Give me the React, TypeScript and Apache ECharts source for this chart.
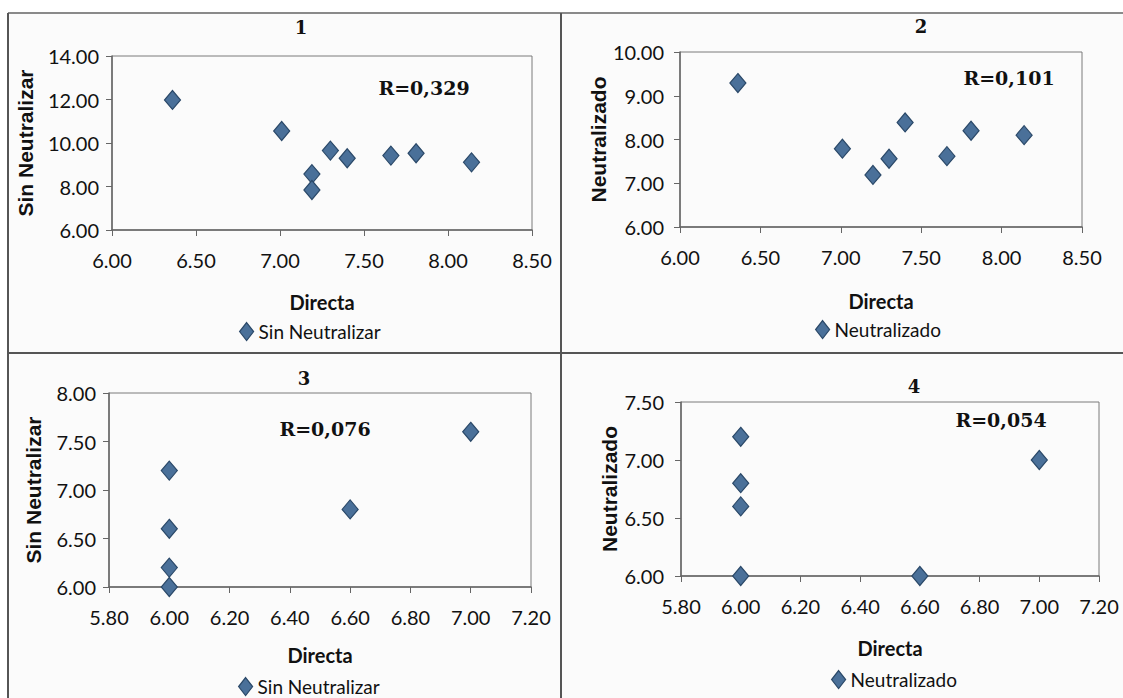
import React, { useEffect, useRef } from "react";
import * as echarts from "echarts";

// Panel 1: Directa vs Sin Neutralizar
const p1X = [6.36, 7.01, 7.19, 7.19, 7.3, 7.4, 7.66, 7.81, 8.14];
const p1Y = [11.98, 10.55, 8.57, 7.84, 9.65, 9.3, 9.42, 9.53, 9.11];
// Panel 2: Directa vs Neutralizado
const p2X = [6.36, 7.01, 7.2, 7.3, 7.4, 7.66, 7.81, 8.14];
const p2Y = [9.29, 7.79, 7.19, 7.56, 8.39, 7.62, 8.2, 8.1];
// Panel 3: Directa vs Sin Neutralizar
const p3X = [6.0, 6.0, 6.0, 6.0, 6.6, 7.0];
const p3Y = [7.2, 6.6, 6.2, 6.0, 6.8, 7.6];
// Panel 4: Directa vs Neutralizado
const p4X = [6.0, 6.0, 6.0, 6.0, 6.6, 7.0];
const p4Y = [7.2, 6.8, 6.6, 6.0, 6.0, 7.0];

const panelTitles = ["1", "2", "3", "4"];
const rLabels = ["R=0,329", "R=0,101", "R=0,076", "R=0,054"];
const seriesNames = ["Sin Neutralizar", "Neutralizado", "Sin Neutralizar", "Neutralizado"];
const xTitle = "Directa";
const yTitles = ["Sin Neutralizar", "Neutralizado", "Sin Neutralizar", "Neutralizado"];

const xRanges = [
  [6, 8.5, 0.5],
  [6, 8.5, 0.5],
  [5.8, 7.2, 0.2],
  [5.8, 7.2, 0.2],
];
const yRanges = [
  [6, 14, 2],
  [6, 10, 1],
  [6, 8, 0.5],
  [6, 7.5, 0.5],
];

const NARROW = "Lato, 'Noto Sans', sans-serif";
const SANS = "'Liberation Sans', Arial, sans-serif";
const SERIF = "'DejaVu Serif', 'Liberation Serif', serif";

export default function App() {
  const ref = useRef<HTMLDivElement>(null);
  useEffect(() => {
    if (!ref.current) return;
    const chart = echarts.init(ref.current, undefined, { renderer: "svg" });
    const grids = [
      { left: 112, top: 56, width: 420, height: 174 },
      { left: 680, top: 52, width: 402, height: 175 },
      { left: 109, top: 393, width: 422, height: 194 },
      { left: 681, top: 402, width: 418, height: 174 },
    ];
    const xNameGaps = [62, 64, 58, 62];
    const yNameGaps = [76, 70, 65, 61];
    const yLabelMargins = [13, 16, 13, 17];
    const titlePos = [
      [301, 27],
      [921, 26],
      [304, 378],
      [914, 386],
    ];
    const rPos = [
      [424, 88],
      [1009, 78],
      [325, 429],
      [1001, 420],
    ];
    const legendPos = [
      [239, 322],
      [815, 320],
      [238, 677],
      [831, 670],
    ];
    const xs = [p1X, p2X, p3X, p4X];
    const ys = [p1Y, p2Y, p3Y, p4Y];

    const markerStyle = {
      color: "#4a7099",
      borderColor: "#2a4868",
      borderWidth: 1.2,
      opacity: 1,
    };

    const option: any = {
      animation: false,
      backgroundColor: "#fbfbfb",
      grid: grids.map((g) => ({
        ...g,
        show: true,
        borderColor: "#7a7a7a",
        borderWidth: 1,
        backgroundColor: "transparent",
      })),
      xAxis: xRanges.map((r, i) => ({
        type: "value",
        gridIndex: i,
        min: r[0],
        max: r[1],
        interval: r[2],
        name: xTitle,
        nameLocation: "middle",
        nameGap: xNameGaps[i],
        nameTextStyle: { fontFamily: NARROW, fontWeight: "bold", fontSize: 20, color: "#111" },
        axisLine: { show: true, lineStyle: { color: "#666", width: 1.5 } },
        axisTick: { show: true, inside: false, length: 6, lineStyle: { color: "#666" } },
        axisLabel: {
          margin: 20,
          fontFamily: NARROW,
          fontSize: 20,
          color: "#111",
          formatter: (v: number) => v.toFixed(2),
        },
        splitLine: { show: false },
      })),
      yAxis: yRanges.map((r, i) => ({
        type: "value",
        gridIndex: i,
        min: r[0],
        max: r[1],
        interval: r[2],
        name: yTitles[i],
        nameLocation: "middle",
        nameGap: yNameGaps[i],
        nameRotate: 90,
        nameTextStyle: { fontFamily: SANS, fontWeight: "bold", fontSize: 21, color: "#111" },
        axisLine: { show: true, lineStyle: { color: "#666", width: 1.5 } },
        axisTick: { show: true, inside: false, length: 6, lineStyle: { color: "#666" } },
        axisLabel: {
          margin: yLabelMargins[i],
          fontFamily: NARROW,
          fontSize: 20,
          color: "#111",
          formatter: (v: number) => v.toFixed(2),
        },
        splitLine: { show: false },
      })),
      legend: legendPos.map((p, i) => ({
        left: p[0],
        top: p[1],
        padding: 0,
        itemWidth: 14,
        itemHeight: 18,
        icon: "diamond",
        data: [{ name: seriesNames[i], icon: "diamond" }],
        selectedMode: false,
        textStyle: { fontFamily: NARROW, fontSize: 19, color: "#111", padding: [0, 0, 0, 0] },
        itemStyle: markerStyle,
        seriesIndex: i,
      })),
      series: xs.map((xArr, i) => ({
        type: "scatter",
        name: seriesNames[i],
        xAxisIndex: i,
        yAxisIndex: i,
        symbol: "diamond",
        symbolSize: [16, 19],
        clip: false,
        itemStyle: markerStyle,
        data: xArr.map((x, j) => [x, ys[i][j]]),
      })),
      graphic: [
        { type: "rect", shape: { x: 0, y: 0, width: 1123, height: 12 }, style: { fill: "#ffffff" }, silent: true },
        { type: "rect", shape: { x: 0, y: 0, width: 7, height: 698 }, style: { fill: "#ffffff" }, silent: true },
        { type: "line", shape: { x1: 8, y1: 13, x2: 1123, y2: 13 }, style: { stroke: "#8a8a8a", lineWidth: 2 }, silent: true },
        { type: "line", shape: { x1: 8, y1: 13, x2: 8, y2: 698 }, style: { stroke: "#555", lineWidth: 2 }, silent: true },
        { type: "line", shape: { x1: 561, y1: 13, x2: 561, y2: 698 }, style: { stroke: "#555", lineWidth: 2 }, silent: true },
        { type: "line", shape: { x1: 8, y1: 353, x2: 1123, y2: 353 }, style: { stroke: "#555", lineWidth: 2 }, silent: true },
        ...panelTitles.map((t, i) => ({
          type: "text",
          x: titlePos[i][0],
          y: titlePos[i][1],
          style: {
            text: t,
            fontFamily: SERIF,
            fontWeight: "bold",
            fontSize: 18,
            fill: "#111",
            textAlign: "center",
            textVerticalAlign: "middle",
          },
          silent: true,
        })),
        ...rLabels.map((t, i) => ({
          type: "text",
          x: rPos[i][0],
          y: rPos[i][1],
          style: {
            text: t,
            fontFamily: SERIF,
            fontWeight: "bold",
            fontSize: 19,
            fill: "#111",
            textAlign: "center",
            textVerticalAlign: "middle",
          },
          silent: true,
        })),
      ],
    };
    chart.setOption(option);
    return () => chart.dispose();
  }, []);
  return (
    <div
      ref={ref}
      style={{ position: "fixed", left: 0, top: 0, width: 1123, height: 698 }}
    />
  );
}
